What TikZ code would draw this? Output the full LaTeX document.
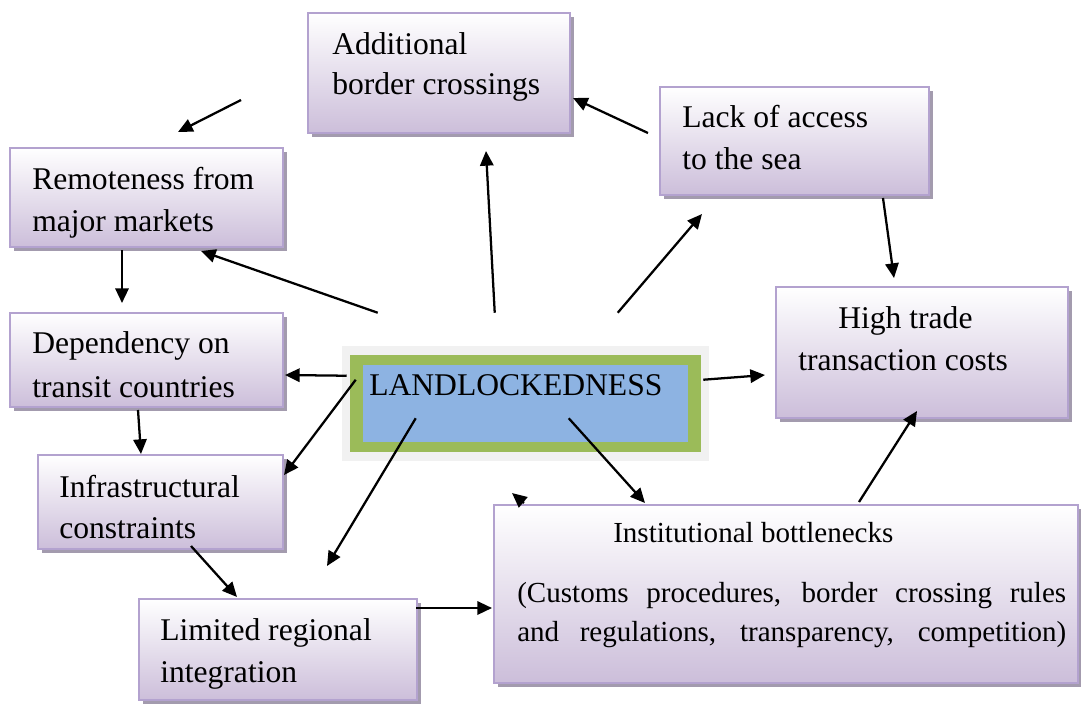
\documentclass[tikz,border=0pt]{standalone}
\usepackage{fontspec}
\setmainfont{Liberation Serif}
\usetikzlibrary{arrows.meta,shadows,fit}
\definecolor{boxbot}{HTML}{CCBEDA}
\definecolor{boxline}{HTML}{B3A2CF}
\definecolor{shadowc}{HTML}{A39BAE}
\definecolor{lgray}{HTML}{F1F1F1}
\definecolor{lgreen}{HTML}{9BBB59}
\definecolor{lblue}{HTML}{8DB3E2}
\begin{document}
\begin{tikzpicture}[x=0.75pt,y=-0.75pt,
 box/.style={draw=boxline,line width=1.5pt,top color=white,bottom color=boxbot,inner sep=0pt,
   drop shadow={shadow xshift=3pt,shadow yshift=-3pt,fill=shadowc,opacity=1}},
 plain/.style={inner sep=0pt,draw=none},
 lbl/.style={anchor=base west,inner sep=0pt,font=\fontsize{23.7}{28}\selectfont},
 slbl/.style={anchor=base west,inner sep=0pt,font=\fontsize{21.8}{26}\selectfont},
 arr/.style={line width=1.7pt,-{Triangle[length=11pt,width=10pt]}}]
\useasboundingbox (0,0) rectangle (1081,704);
\fill[white] (0,0) rectangle (1081,704);

% boxes
\node[box,fit={(308,13) (570,133)}] (add) {};
\node[box,fit={(660,87) (929,195)}] (lack) {};
\node[box,fit={(10,148) (283,247)}] (rem) {};
\node[box,fit={(776,287) (1068,418)}] (high) {};
\node[box,fit={(10,313) (283,407)}] (dep) {};
\node[box,fit={(38,455) (283,549)}] (infra) {};
\node[box,fit={(139,599) (417,700)}] (lim) {};
\node[box,fit={(494,505) (1078,683)}] (inst) {};

% centre box
\node[plain,fill=lgray,fit={(342,346) (709,461)}] (land) {};
\node[plain,fill=lgreen,fit={(350,355) (701,452)}] (landg) {};
\node[plain,fill=lblue,fit={(363,365) (688,442)}] (landb) {};

% texts
\node[lbl] (t1) at (332,54) {Additional};
\node[lbl] (t2) at (332,94) {border crossings};
\node[lbl] (t3) at (682,127) {Lack of access};
\node[lbl] (t4) at (682,169) {to the sea};
\node[lbl] (t5) at (32,189) {Remoteness from};
\node[lbl] (t6) at (32,231) {major markets};
\node[lbl] (t7) at (838,328) {High trade};
\node[lbl] (t8) at (798,370) {transaction costs};
\node[lbl] (t9) at (32,353) {Dependency on};
\node[lbl] (t10) at (32,397) {transit countries};
\node[lbl] (t11) at (369,395) {LANDLOCKEDNESS};
\node[lbl] (t12) at (59,497) {Infrastructural};
\node[lbl] (t13) at (59,538) {constraints};
\node[lbl] (t14) at (160,640) {Limited regional};
\node[lbl] (t15) at (160,682) {integration};
\node[slbl] (t16) at (613,542) {Institutional bottlenecks};
\node[slbl] (t17) at (517,602) {\makebox[411.75pt][s]{(Customs procedures, border crossing rules}};
\node[slbl] (t18) at (517,641) {\makebox[411.75pt][s]{and regulations, transparency, competition)}};

% free arrow ends
\coordinate (f1) at (241,100);
\coordinate (f2) at (178,132);

% arrows
\draw[arr] (f1) -- (f2);
\draw[arr] ([shift={(36,-33)}]land.north west) -- ([shift={(-83,3)}]rem.south east);
\draw[arr] ([shift={(153,-33)}]land.north west) -- ([shift={(179,17)}]add.south west);
\draw[arr] ([shift={(276,-33)}]land.north west) -- ([shift={(43,18)}]lack.south west);
\draw[arr] ([shift={(-11,-8)}]lack.west) -- ([shift={(2,25)}]add.east);
\draw[arr] ([shift={(224,2)}]lack.south west) -- ([shift={(119,-8)}]high.north west);
\draw[arr] ([shift={(-6,34)}]land.north east) -- ([shift={(-10,89)}]high.north west);
\draw[arr] ([shift={(113,2)}]rem.south west) -- ([shift={(113,-9)}]dep.north west);
\draw[arr] ([shift={(5,30)}]land.north west) -- ([shift={(1,63)}]dep.north east);
\draw[arr] ([shift={(129,2)}]dep.south west) -- ([shift={(104,0)}]infra.north west);
\draw[arr] ([shift={(14,34)}]land.north west) -- ([shift={(0,21)}]infra.north east);
\draw[arr] ([shift={(74,-43)}]land.south west) -- ([shift={(189,-32)}]lim.north west);
\draw[arr] ([shift={(227,-43)}]land.south west) -- ([shift={(152,-1)}]inst.north west);
\draw[arr] ([shift={(154,-4)}]infra.south west) -- ([shift={(99,-1)}]lim.north west);
\draw[arr] ([shift={(-2,10)}]lim.north east) -- ([shift={(-1,104)}]inst.north west);
\draw[arr] ([shift={(366,-2)}]inst.north west) -- ([shift={(142,-8)}]high.south west);
\draw[arr] ([shift={(31,-1)}]inst.north west) -- ([shift={(19,-11)}]inst.north west);
\end{tikzpicture}
\end{document}
